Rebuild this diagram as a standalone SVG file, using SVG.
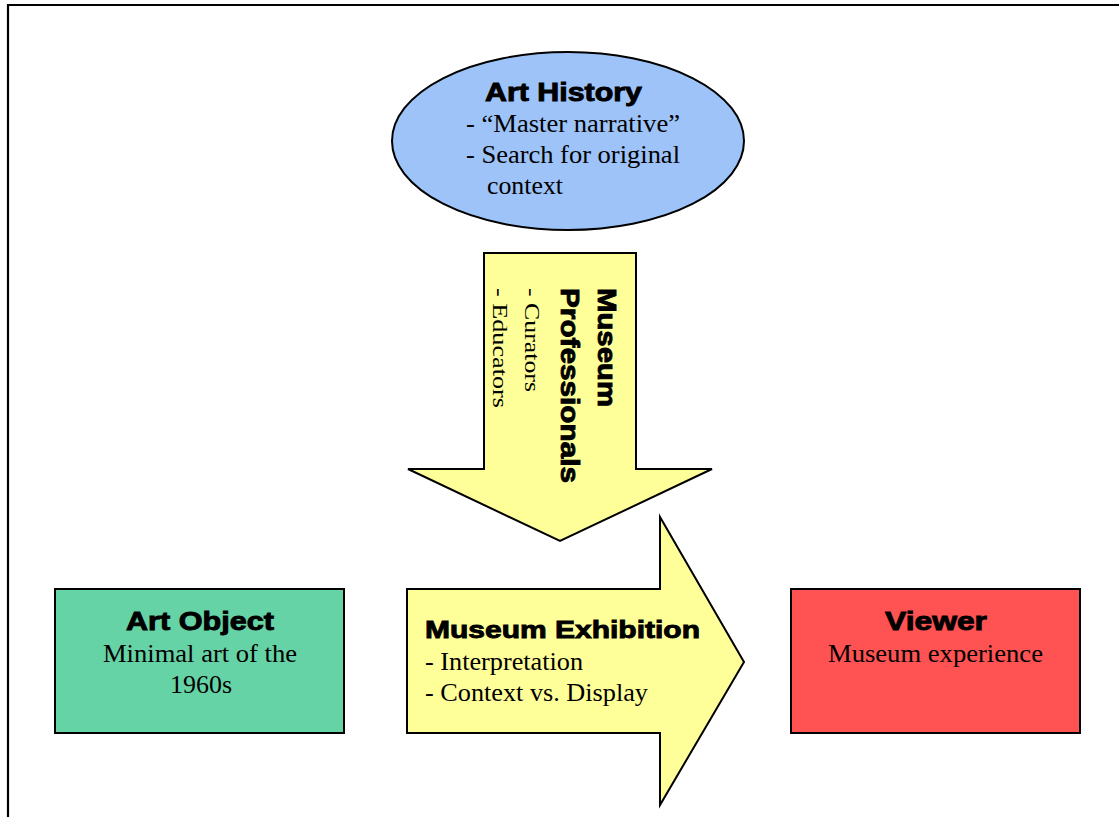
<svg xmlns="http://www.w3.org/2000/svg" width="1119" height="817" viewBox="0 0 1119 817">
  <style>
    .shape { stroke: #000; stroke-width: 2; stroke-linejoin: miter; }
    .title { font-family: "Liberation Sans", Arial, sans-serif; font-weight: bold; fill: #000; stroke: #000; stroke-width: 0.9; }
    .body { font-family: "Liberation Serif", "Times New Roman", serif; fill: #000; }
    .frame { stroke: #000; stroke-width: 2.2; fill: none; }
  </style>
  <rect x="0" y="0" width="1119" height="817" fill="#fff"/>
  <polyline class="frame" points="8,817 8,5 1119,5"/>

  <g id="art-history">
    <ellipse class="shape" cx="568" cy="141" rx="176" ry="89" fill="#9dc3f8"/>
    <text class="title" x="485" y="101" font-size="25" textLength="157" lengthAdjust="spacingAndGlyphs">Art History</text>
    <text class="body" x="466" y="132" font-size="25" textLength="214" lengthAdjust="spacingAndGlyphs">- “Master narrative”</text>
    <text class="body" x="466" y="163" font-size="25" textLength="214" lengthAdjust="spacingAndGlyphs">- Search for original</text>
    <text class="body" x="487" y="194" font-size="25" textLength="76" lengthAdjust="spacingAndGlyphs">context</text>
  </g>

  <g id="museum-professionals">
    <polygon class="shape" points="484,253 636,253 636,469 712,469 560,541 408,469 484,469" fill="#ffff99"/>
    <text class="title" transform="translate(598,288) rotate(90)" font-size="26" textLength="119" lengthAdjust="spacingAndGlyphs">Museum</text>
    <text class="title" transform="translate(561,288) rotate(90)" font-size="26" textLength="195" lengthAdjust="spacingAndGlyphs">Professionals</text>
    <text class="body" transform="translate(525,288) rotate(90)" font-size="21" textLength="104" lengthAdjust="spacingAndGlyphs">- Curators</text>
    <text class="body" transform="translate(493,288) rotate(90)" font-size="21" textLength="120" lengthAdjust="spacingAndGlyphs">- Educators</text>
  </g>

  <g id="museum-exhibition">
    <polygon class="shape" points="407,589 660,589 660,517 744,662 660,805 660,733 407,733" fill="#ffff99"/>
    <text class="title" x="425" y="638" font-size="24" textLength="275" lengthAdjust="spacingAndGlyphs">Museum Exhibition</text>
    <text class="body" x="425" y="670" font-size="25" textLength="158" lengthAdjust="spacingAndGlyphs">- Interpretation</text>
    <text class="body" x="425" y="701" font-size="25" textLength="223" lengthAdjust="spacingAndGlyphs">- Context vs. Display</text>
  </g>

  <g id="art-object">
    <rect class="shape" x="55" y="589" width="289" height="144" fill="#66d3a6"/>
    <text class="title" x="126" y="630" font-size="25" textLength="148" lengthAdjust="spacingAndGlyphs">Art Object</text>
    <text class="body" x="103" y="662" font-size="25" textLength="194" lengthAdjust="spacingAndGlyphs">Minimal art of the</text>
    <text class="body" x="170" y="693" font-size="25" textLength="62" lengthAdjust="spacingAndGlyphs">1960s</text>
  </g>

  <g id="viewer">
    <rect class="shape" x="791" y="589" width="289" height="144" fill="#ff5252"/>
    <text class="title" x="885" y="630" font-size="25" textLength="102" lengthAdjust="spacingAndGlyphs">Viewer</text>
    <text class="body" x="828" y="662" font-size="25" textLength="215" lengthAdjust="spacingAndGlyphs">Museum experience</text>
  </g>

  <g id="connectors"></g>
</svg>
